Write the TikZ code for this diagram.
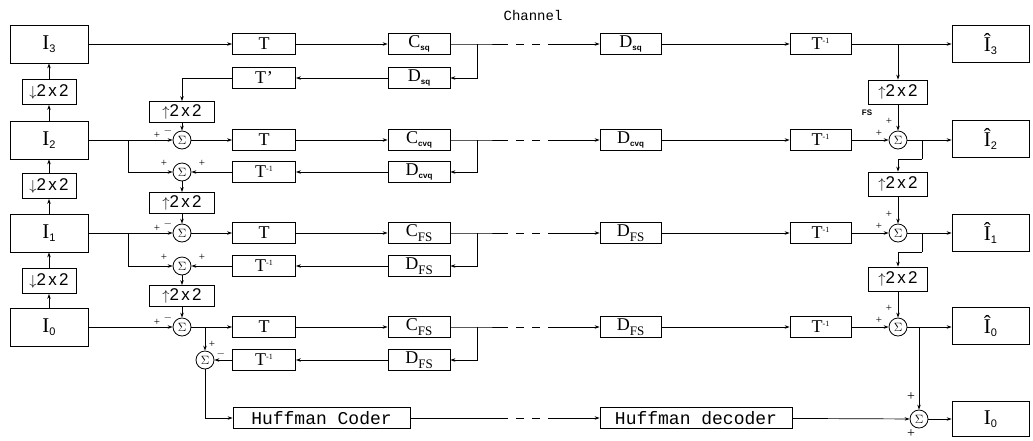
\documentclass[tikz,border=0pt]{standalone}
\usepackage{fontspec}
\setmainfont{Liberation Serif}
\newfontfamily\sansf[LetterSpace=14]{Liberation Sans}
\newfontfamily\sansb{Liberation Sans}
\newfontfamily\monof{Liberation Mono}
\usetikzlibrary{arrows.meta}
\newcommand\lbl[1]{\fontsize{18}{18}\selectfont #1}
\newcommand\sbs[1]{\raisebox{-3pt}{\sansb\fontsize{8}{8}\selectfont\bfseries #1}}
\newcommand\sfs{\raisebox{-5pt}{\fontsize{13}{13}\selectfont FS}}
\newcommand\inv{\raisebox{6pt}{\fontsize{8}{8}\selectfont -1}}
\newcommand\bigI[1]{\fontsize{21}{21}\selectfont I\raisebox{-3pt}{\sansb\fontsize{11}{11}\selectfont #1}}
\newcommand\hatI[1]{\fontsize{21}{21}\selectfont Î\raisebox{-3pt}{\sansb\fontsize{11}{11}\selectfont #1}}
\newcommand\upxx{{\fontsize{15}{15}\selectfont$\uparrow$}{\sansf\fontsize{17}{17}\selectfont 2x2}}
\newcommand\dnxx{{\fontsize{15}{15}\selectfont$\downarrow$}{\sansf\fontsize{17}{17}\selectfont 2x2}}
\newcommand\sig{{\fontsize{13}{13}\selectfont$\Sigma$}}
\begin{document}
\begin{tikzpicture}[x=1pt,y=-1pt,
  box/.style={draw, line width=0.8pt, inner sep=0pt, minimum height=21pt},
  tb/.style={box, minimum width=63pt},
  cb/.style={box, minimum width=62pt},
  db/.style={box, minimum width=61pt},
  big/.style={box, minimum width=78pt, minimum height=38pt},
  hb/.style={box, minimum width=77pt, minimum height=37pt},
  dn/.style={box, minimum width=54pt, minimum height=25pt},
  upe/.style={box, minimum width=65pt, minimum height=21pt},
  upd/.style={box, minimum width=59pt, minimum height=24pt},
  huff/.style={box, font=\monof\fontsize{18}{18}\selectfont},
  sum/.style={draw, circle, line width=0.8pt, minimum size=18pt, inner sep=0pt},
  arr/.style={-{Stealth[length=5pt,width=3.5pt]}, line width=0.7pt},
  ln/.style={line width=0.7pt},
  chan/.style={line width=0.7pt, dash pattern=on 8pt off 8pt, dash phase=8pt},
  pm/.style={font=\fontsize{11}{11}\selectfont, inner sep=0pt}
]
\useasboundingbox (0,0) rectangle (1033,440);

\node[font=\monof\fontsize{14}{14}\selectfont] (chl) at (533,15) {Channel};

% ---------- left pyramid ----------
\node[big] (I3) at (49,44) {\bigI{3}};
\node[big] (I2) at (49,140) {\bigI{2}};
\node[big] (I1) at (49,233) {\bigI{1}};
\node[big] (I0) at (49,327) {\bigI{0}};
\node[dn] (dn3) at (49,92) {\dnxx};
\node[dn] (dn2) at (49,186) {\dnxx};
\node[dn] (dn1) at (49,281) {\dnxx};
\draw[arr] (I2) -- (dn3); \draw[arr] (dn3) -- (I3);
\draw[arr] (I1) -- (dn2); \draw[arr] (dn2) -- (I2);
\draw[arr] (I0) -- (dn1); \draw[arr] (dn1) -- (I1);

% ---------- encoder nodes ----------
\node[tb] (T3) at (264,44) {\lbl{T}};
\node[cb] (C3) at (419,44) {\lbl{C\sbs{sq}}};
\node[tb] (Ti3) at (264,78) {\lbl{T\kern1pt'}};
\node[cb] (D3) at (419,78) {\lbl{D\sbs{sq}}};
\node[upe] (up3) at (182,112) {\upxx};

\node[sum] (S2) at (182,140) {\sig};
\node[sum] (F2) at (182,172) {\sig};
\node[tb] (T2) at (264,140) {\lbl{T}};
\node[cb] (C2) at (419,140) {\lbl{C\sbs{cvq}}};
\node[tb] (Ti2) at (264,172) {\lbl{T\inv}};
\node[cb] (D2) at (419,172) {\lbl{D\sbs{cvq}}};
\node[upe] (up2) at (182,203) {\upxx};

\node[sum] (S1) at (182,233) {\sig};
\node[sum] (F1) at (182,266) {\sig};
\node[tb] (T1) at (264,233) {\lbl{T}};
\node[cb] (C1) at (419,233) {\lbl{C\sfs}};
\node[tb] (Ti1) at (264,266) {\lbl{T\inv}};
\node[cb] (D1) at (419,266) {\lbl{D\sfs}};
\node[upe] (up1) at (182,296) {\upxx};

\node[sum] (S0) at (182,327) {\sig};
\node[sum] (E0) at (205,360) {\sig};
\node[tb] (T0) at (264,327) {\lbl{T}};
\node[cb] (C0) at (419,327) {\lbl{C\sfs}};
\node[tb] (Ti0) at (264,360) {\lbl{T\inv}};
\node[cb] (D0) at (419,360) {\lbl{D\sfs}};
\node[huff, minimum width=177pt] (HC) at (321.5,418) {Huffman Coder};

% ---------- decoder nodes ----------
\node[db] (Dd3) at (630.5,44) {\lbl{D\sbs{sq}}};
\node[db] (Dd2) at (630.5,140) {\lbl{D\sbs{cvq}}};
\node[db] (Dd1) at (630.5,233) {\lbl{D\sfs}};
\node[db] (Dd0) at (630.5,327) {\lbl{D\sfs}};
\node[huff, minimum width=192pt] (HD) at (696,418) {Huffman decoder};
\node[db] (Td3) at (820.5,44) {\lbl{T\inv}};
\node[db] (Td2) at (820.5,140) {\lbl{T\inv}};
\node[db] (Td1) at (820.5,233) {\lbl{T\inv}};
\node[db] (Td0) at (820.5,327) {\lbl{T\inv}};
\node[upd] (ud3) at (898,92) {\upxx};
\node[upd] (ud2) at (898,184) {\upxx};
\node[upd] (ud1) at (898,279) {\upxx};
\node[sum] (SD2) at (898,140) {\sig};
\node[sum] (SD1) at (898,233) {\sig};
\node[sum] (SD0) at (898,327) {\sig};
\node[sum] (SF) at (919,419) {\sig};
\node[hb] (H3) at (990.5,44) {\hatI{3}};
\node[hb] (H2) at (990.5,139) {\hatI{2}};
\node[hb] (H1) at (990.5,233) {\hatI{1}};
\node[hb] (H0) at (990.5,326) {\hatI{0}};
\node[hb, minimum height=35pt] (IF) at (990.5,419) {\bigI{0}};

% ---------- encoder connections ----------
\coordinate (br2) at (128,140);
\coordinate (br1) at (128,233);
\coordinate (brE) at (205,327);
\foreach \r in {3,2,1,0}{
  \coordinate (cb\r) at (477,0 |- C\r);
  \coordinate (ca\r) at (508,0 |- C\r);
  \coordinate (cc\r) at (552,0 |- C\r);
  \draw[arr] (T\r) -- (C\r);
  \draw[ln] (C\r) -- (cb\r) -- (ca\r);
  \draw[arr] (cb\r) |- (D\r.east);
  \draw[chan] (ca\r) -- (cc\r);
  \draw[arr] (cc\r) -- (Dd\r);
  \draw[arr] (D\r) -- (Ti\r);
  \draw[arr] (Dd\r) -- (Td\r);
}
\draw[arr] (I3) -- (T3);
\draw[arr] (Ti3.west) -| (up3.north);
\draw[arr] (up3) -- (S2);
\draw[arr] (I2) -- (S2);
\draw[arr] (S2) -- (T2);
\draw[arr] (br2) |- (F2);
\draw[arr] (Ti2) -- (F2);
\draw[arr] (F2) -- (up2);
\draw[arr] (up2) -- (S1);
\draw[arr] (I1) -- (S1);
\draw[arr] (S1) -- (T1);
\draw[arr] (br1) |- (F1);
\draw[arr] (Ti1) -- (F1);
\draw[arr] (F1) -- (up1);
\draw[arr] (up1) -- (S0);
\draw[arr] (I0) -- (S0);
\draw[arr] (S0) -- (T0);
\draw[arr] (brE) -- (E0);
\draw[arr] (Ti0) -- (E0);
\draw[arr] (E0.south) |- (HC.west);
\coordinate (ha) at (508,418);
\coordinate (hc) at (552,418);
\draw[ln] (HC) -- (ha);
\draw[chan] (ha) -- (hc);
\draw[arr] (hc) -- (HD);

% ---------- decoder connections ----------
\coordinate (db3) at (898,44);
\coordinate (db2) at (922,140);
\coordinate (dk2) at (922,159);
\coordinate (db1) at (922,233);
\coordinate (dk1) at (922,252);
\coordinate (db0) at (919,327);
\draw[arr] (Td3) -- (H3);
\draw[arr] (db3) -- (ud3);
\draw[arr] (ud3) -- (SD2);
\draw[arr] (Td2) -- (SD2);
\draw[arr] (SD2) -- (H2.west |- SD2);
\draw[ln] (db2) -- (dk2);
\draw[arr] (dk2) -| (ud2.north);
\draw[arr] (ud2) -- (SD1);
\draw[arr] (Td1) -- (SD1);
\draw[arr] (SD1) -- (H1);
\draw[ln] (db1) -- (dk1);
\draw[arr] (dk1) -| (ud1.north);
\draw[arr] (ud1) -- (SD0);
\draw[arr] (Td0) -- (SD0);
\draw[arr] (SD0) -- (H0.west |- SD0);
\draw[arr] (db0) -- (SF);
\draw[arr] (HD) -- (SF);
\draw[arr] (SF) -- (IF);

% ---------- signs ----------
\foreach \s in {S2,S1,S0}{
  \node[pm] at ([shift={(-25,-5)}]\s) {+};
  \node[pm] at ([shift={(-14,-9)}]\s) {$-$};
}
\foreach \s in {F2,F1}{
  \node[pm] at ([shift={(-18,-9)}]\s) {+};
  \node[pm] at ([shift={(20,-9)}]\s) {+};
}
\node[pm] at ([shift={(7,-16)}]E0) {+};
\node[pm] at ([shift={(16,-6)}]E0) {$-$};
\foreach \s in {SD2,SD1,SD0}{
  \node[pm] at ([shift={(-19,-7)}]\s) {+};
  \node[pm] at ([shift={(-9,-19)}]\s) {+};
}
\node[pm, font=\sansb\fontsize{8}{8}\selectfont\bfseries] (fs) at (867,113) {FS};
\node[pm, font=\fontsize{14}{14}\selectfont] at ([shift={(-8,-22)}]SF) {+};
\node[pm, font=\fontsize{14}{14}\selectfont] at ([shift={(-8,15)}]SF) {+};
\end{tikzpicture}
\end{document}
